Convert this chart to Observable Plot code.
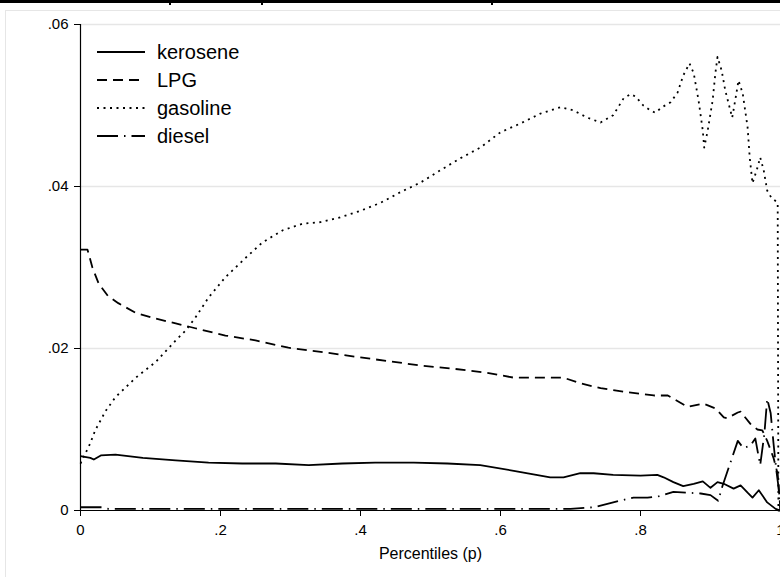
<!DOCTYPE html>
<html><head><meta charset="utf-8">
<script src="https://cdn.jsdelivr.net/npm/d3@7"></script>
<script src="https://cdn.jsdelivr.net/npm/@observablehq/plot@0.6"></script>
<style>
html,body{margin:0;padding:0;background:#fff;overflow:hidden;}
#wrap{position:relative;width:800px;height:577px;font-family:"Liberation Sans",Arial,sans-serif;}
#topbar{position:absolute;left:0;top:0;width:800px;height:3px;background:#000;}
.nub{position:absolute;top:3px;width:2px;height:2px;background:#000;}
#frame{position:absolute;left:5px;top:10px;width:820px;height:600px;border:1px solid #e6e6e6;}
#chart{position:absolute;left:0;top:0;}
#legend{position:absolute;left:97px;top:38px;}
.row{display:flex;align-items:center;height:28px;}
.row svg{display:block;}
.row span{margin-left:12px;font-size:20px;color:#000;line-height:28px;}
</style></head>
<body>
<div id="wrap">
  <div id="frame"></div>
  <div id="topbar"></div>
  <div class="nub" style="left:169px"></div>
  <div class="nub" style="left:261px"></div>
  <div class="nub" style="left:491px"></div>
  <div id="chart"></div>
  <div id="legend"></div>
</div>
<script>
const fuels = ["kerosene", "LPG", "gasoline", "diesel"];
const dashes = [null, "10 6", "2 4.5", "21 6 1.5 6"];

const keroseneP = [0,.014,.019,.029,.05,.089,.136,.183,.231,.279,.326,.374,.421,.446,.476,.524,.571,.619,.671,.69,.714,.733,.761,.8,.824,.833,.847,.861,.876,.889,.9,.91,.919,.933,.943,.953,.96,.969,.981,.993,1];
const keroseneV = [.0067,.0065,.0063,.0068,.0069,.0065,.0062,.0059,.0058,.0058,.0056,.0058,.0059,.0059,.0059,.0058,.0056,.0049,.0041,.0041,.0046,.0046,.0044,.0043,.0044,.0041,.0035,.0030,.0033,.0036,.0028,.0035,.0033,.0027,.0031,.0022,.0016,.0025,.0010,.0002,0];

const lpgP = [0,.01,.017,.026,.039,.054,.079,.107,.136,.164,.207,.25,.297,.35,.4,.443,.486,.533,.581,.619,.676,.69,.714,.743,.781,.819,.839,.847,.867,.89,.907,.919,.924,.939,.943,.957,.967,.974,.981,.99,.996,1];
const lpgV = [.0322,.0322,.0300,.0280,.0265,.0256,.0244,.0237,.0231,.0225,.0216,.0210,.0201,.0195,.0189,.0184,.0179,.0175,.0170,.0164,.0164,.0164,.0157,.0151,.0146,.0142,.0142,.0138,.0128,.0132,.0126,.0115,.0114,.0121,.0122,.0107,.0100,.0099,.0086,.0065,.0045,0];

const gasolineP = [0,.014,.021,.036,.05,.079,.107,.136,.15,.164,.183,.207,.236,.26,.289,.317,.343,.371,.4,.429,.457,.486,.514,.543,.571,.6,.629,.657,.686,.704,.724,.743,.761,.776,.786,.793,.804,.814,.821,.831,.843,.853,.861,.870,.876,.883,.889,.891,.896,.903,.907,.910,.916,.921,.931,.936,.940,.946,.953,.956,.960,.967,.971,.976,.981,.987,.996,.997,1];
const gasolineV = [.0058,.0083,.0099,.0123,.0140,.0164,.0183,.0210,.0222,.0238,.0263,.0288,.0312,.0331,.0346,.0354,.0356,.0362,.0370,.0380,.0393,.0405,.0420,.0435,.0448,.0467,.0478,.0490,.0498,.0494,.0485,.0479,.0488,.0509,.0514,.0511,.0500,.0494,.0491,.0498,.0504,.0516,.0537,.0552,.0540,.0506,.0469,.0448,.0469,.0506,.0540,.0560,.0543,.0519,.0485,.0510,.0531,.0515,.0473,.0436,.0404,.0423,.0436,.0420,.0395,.0386,.0380,0,0];

const dieselP = [0,.03,.04,.1,.2,.3,.4,.5,.6,.7,.733,.761,.79,.81,.824,.847,.867,.886,.9,.911,.917,.939,.947,.957,.964,.971,.977,.981,.986,.99,.994,.997,1];
const dieselV = [.0004,.0004,.0002,.0002,.0002,.0002,.0002,.0002,.0002,.0002,.0004,.0010,.0016,.0016,.0017,.0023,.0022,.0021,.0019,.0012,.0030,.0086,.0077,.0080,.0089,.0056,.0095,.0138,.0120,.0083,.0050,.0030,0];

const xTicks = [0, .2, .4, .6, .8, 1];
const yTicks = [0, .02, .04, .06];
const xTitle = "Percentiles (p)";

const seriesP = [keroseneP, lpgP, gasolineP, dieselP];
const seriesV = [keroseneV, lpgV, gasolineV, dieselV];
const rows = fuels.flatMap((f, i) => seriesP[i].map((p, j) => ({fuel: f, p, v: seriesV[i][j]})));

const fmt = d => d === 0 ? "0" : d === 1 ? "1" : d3.format(".2~f")(d).replace(/^0\./, ".");

const lines = fuels.map((f, i) => Plot.line(rows.filter(r => r.fuel === f), {
  x: "p", y: "v", stroke: "#000", strokeWidth: 1.8,
  strokeDasharray: dashes[i] || undefined, strokeLinejoin: "round", strokeLinecap: "butt"
}));

const chart = Plot.plot({
  width: 800, height: 577,
  marginLeft: 80, marginRight: 20, marginTop: 24, marginBottom: 67,
  style: {fontFamily: "Liberation Sans, Arial, sans-serif", fontSize: "15px", background: "transparent", color: "#000"},
  x: {domain: [0, 1]},
  y: {domain: [0, .06]},
  marks: [
    Plot.gridY(yTicks.filter(d => d > 0), {stroke: "#e6e6e6", strokeOpacity: 1, strokeWidth: 1.5}),
    ...lines,
    Plot.ruleX([0], {stroke: "#000", strokeWidth: 1.2}),
    Plot.ruleY([0], {stroke: "#000", strokeWidth: 1.2}),
    Plot.axisX(xTicks, {tickSize: 6, tickPadding: 8, tickFormat: fmt, fontSize: 15, label: null}),
    Plot.axisY(yTicks, {tickSize: 6, tickPadding: 6, tickFormat: fmt, fontSize: 15, label: null}),
    Plot.text([xTitle], {frameAnchor: "bottom", dy: 48, fontSize: 16, fill: "#000"})
  ]
});
document.getElementById("chart").appendChild(chart);

const legend = d3.select("#legend");
fuels.forEach((f, i) => {
  const row = legend.append("div").attr("class", "row");
  const svg = row.append("svg").attr("width", 48).attr("height", 6);
  svg.append("line").attr("x1", 0).attr("x2", 48).attr("y1", 3).attr("y2", 3)
    .attr("stroke", "#000").attr("stroke-width", 1.8)
    .attr("stroke-dasharray", dashes[i]);
  row.append("span").text(f);
});
</script>
</body></html>
